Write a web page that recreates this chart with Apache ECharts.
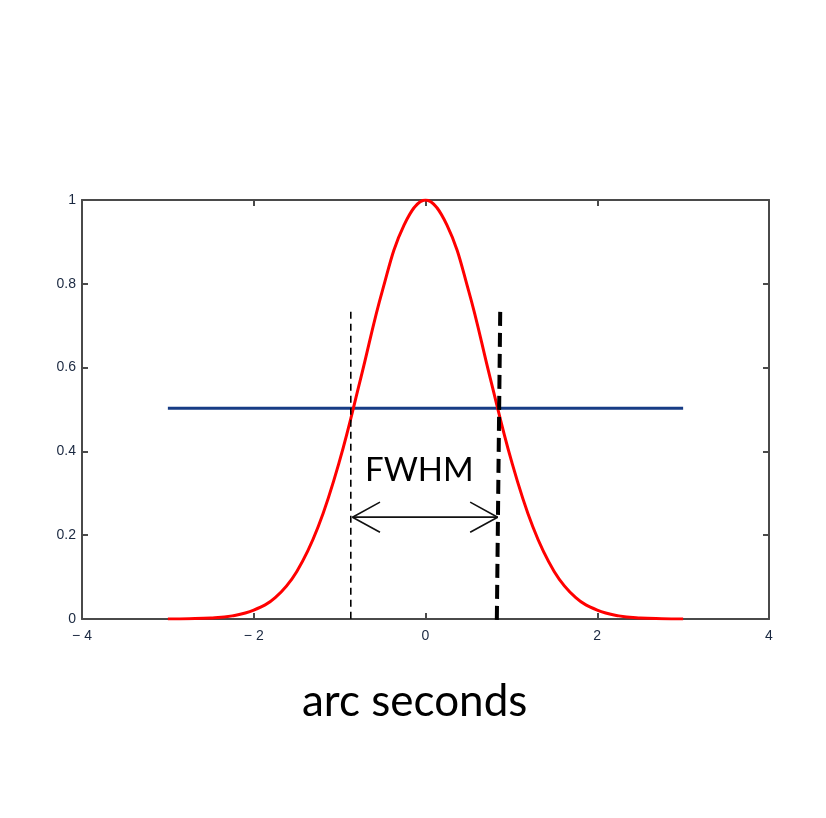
<!DOCTYPE html>
<html>
<head>
<meta charset="utf-8">
<script src="https://cdn.jsdelivr.net/npm/echarts@6/dist/echarts.min.js"></script>
<style>html,body{margin:0;padding:0;background:#fff;}#c{width:826px;height:818px;}</style>
</head>
<body>
<div id="c"></div>
<script>
// Data
var curveX = [-3, -2.75, -2.5, -2.25, -2, -1.75, -1.5, -1.25, -1, -0.75, -0.5, -0.25, 0, 0.25, 0.5, 0.75, 1, 1.25, 1.5, 1.75, 2, 2.25, 2.5, 2.75, 3];
var curveY = [0.0002, 0.0007, 0.0023, 0.0075, 0.021, 0.051, 0.113, 0.22, 0.378, 0.578, 0.785, 0.94, 1, 0.94, 0.785, 0.578, 0.378, 0.22, 0.113, 0.051, 0.021, 0.0075, 0.0023, 0.0007, 0.0002];
var halfX = [-3, 3];
var halfY = [0.503, 0.503];
var leftDashX = [-0.87, -0.87];
var leftDashY = [0.733, -0.014];
var rightDashX = [0.87, 0.83];
var rightDashY = [0.733, -0.014];
var arrowX = [-0.85, 0.84];
var arrowY = [0.243, 0.243];
var headDX = 0.32, headDY = 0.036;
var xTicks = [-4, -2, 0, 2, 4];
var yTicks = [0, 0.2, 0.4, 0.6, 0.8, 1];
var fwhmLabel = 'FWHM';
var xTitle = 'arc seconds';

function pairs(xs, ys) { return xs.map(function (x, i) { return [x, ys[i]]; }); }

var axisLine = { show: true, onZero: false, lineStyle: { color: '#4a4a4a', width: 2 } };
var tickStyle = { show: true, inside: true, length: 6, lineStyle: { color: '#4a4a4a', width: 2 } };
var lblStyle = { color: '#1a2840', fontFamily: 'Liberation Sans', fontSize: 14 };

var chart = echarts.init(document.getElementById('c'), null, { renderer: 'canvas' });
var ax0 = arrowX[0], ax1 = arrowX[1], ay = arrowY[0];
var xMin = xTicks[0], xMax = xTicks[xTicks.length - 1];
var yMin = yTicks[0], yMax = yTicks[yTicks.length - 1];
chart.setOption({
  animation: false,
  backgroundColor: '#fff',
  grid: { left: 82, right: 57, top: 200, bottom: 199, containLabel: false },
  xAxis: [{
    type: 'value', min: xMin, max: xMax, interval: 2,
    axisLine: axisLine, axisTick: tickStyle, splitLine: { show: false },
    axisLabel: Object.assign({ margin: 10, formatter: function (v) { return v < 0 ? '\u2212 ' + Math.abs(v) : String(v); } }, lblStyle)
  }, {
    type: 'value', position: 'top', min: xMin, max: xMax, interval: 2,
    axisLine: axisLine, axisTick: tickStyle, splitLine: { show: false }, axisLabel: { show: false }
  }],
  yAxis: [{
    type: 'value', min: yMin, max: yMax, interval: 0.2,
    axisLine: axisLine, axisTick: tickStyle, splitLine: { show: false },
    axisLabel: Object.assign({ margin: 6, formatter: function (v) { return String(+v.toFixed(1)); } }, lblStyle)
  }, {
    type: 'value', position: 'right', min: yMin, max: yMax, interval: 0.2,
    axisLine: axisLine, axisTick: tickStyle, splitLine: { show: false }, axisLabel: { show: false }
  }],
  series: [
    { type: 'line', data: pairs(halfX, halfY), symbol: 'none', lineStyle: { color: '#173c85', width: 3 }, z: 3 },
    { type: 'line', data: pairs(curveX, curveY), smooth: 0.4, symbol: 'none', lineStyle: { color: '#ff0000', width: 3 }, z: 4 },
    { type: 'line', data: pairs(leftDashX, leftDashY), symbol: 'none', lineStyle: { color: '#000', width: 1.6, type: [7, 5] }, z: 5 },
    { type: 'line', data: pairs(rightDashX, rightDashY), symbol: 'none', lineStyle: { color: '#000', width: 4, type: [14, 7] }, z: 5 },
    { type: 'line', data: pairs(arrowX, arrowY), symbol: 'none', lineStyle: { color: '#111', width: 1.8 }, z: 5 },
    { type: 'line', data: [[ax0 + headDX, ay + headDY], [ax0, ay], [ax0 + headDX, ay - headDY]], symbol: 'none', lineStyle: { color: '#111', width: 1.6 }, z: 5 },
    { type: 'line', data: [[ax1 - headDX, ay + headDY], [ax1, ay], [ax1 - headDX, ay - headDY]], symbol: 'none', lineStyle: { color: '#111', width: 1.6 }, z: 5 }
  ],
  graphic: [
    { type: 'text', left: 365, top: 454, style: { text: fwhmLabel, fill: '#000', font: '33px Lato' } },
    { type: 'text', left: 302, top: 680, style: { text: xTitle, fill: '#000', font: '44px Lato' } }
  ]
});
</script>
</body>
</html>
